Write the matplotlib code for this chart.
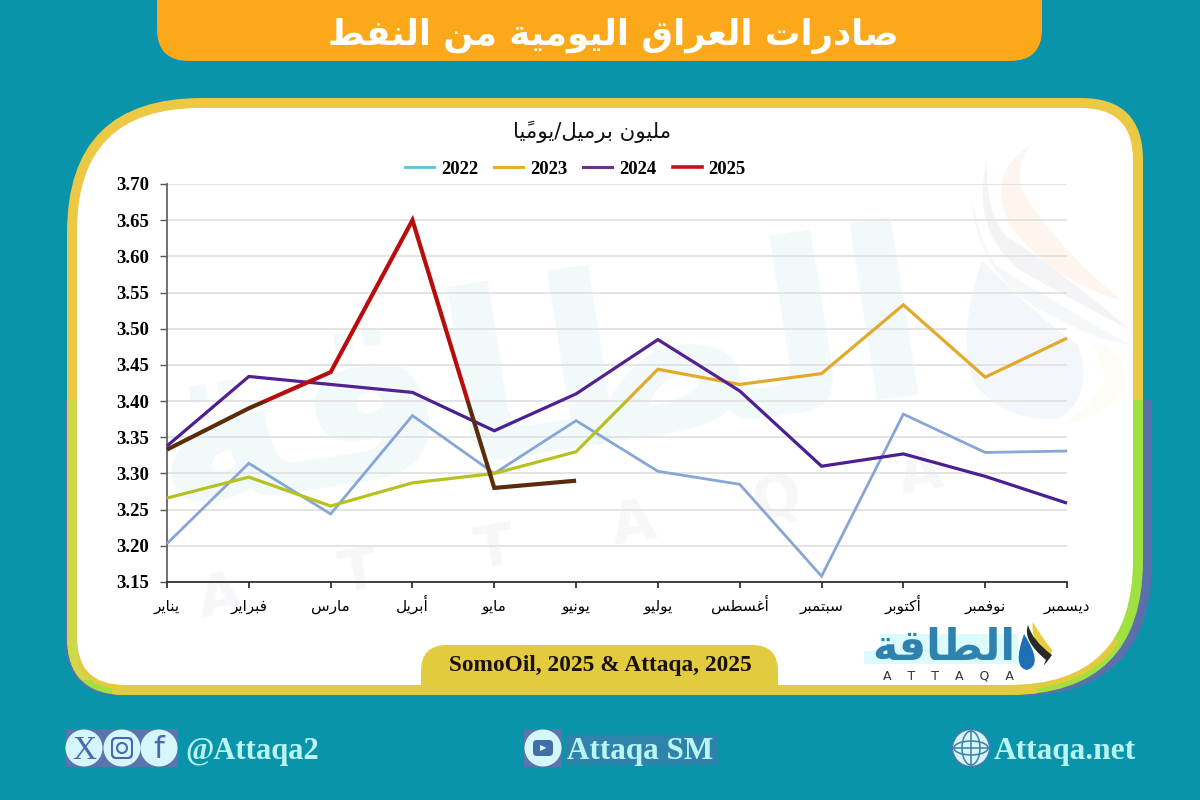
import matplotlib
matplotlib.use("Agg")
import matplotlib.pyplot as plt
from matplotlib.patches import Rectangle, Circle, Ellipse, PathPatch
from matplotlib.path import Path
from matplotlib.lines import Line2D
from matplotlib.ticker import FixedLocator

# ---------- data ----------
months = ["يناير", "فبراير", "مارس", "أبريل", "مايو", "يونيو",
          "يوليو", "أغسطس", "سبتمبر", "أكتوبر", "نوفمبر", "ديسمبر"]
y2022 = [3.203, 3.314, 3.244, 3.380, 3.300, 3.373, 3.303, 3.285, 3.158, 3.382, 3.329, 3.331]
y2023 = [3.266, 3.295, 3.255, 3.287, 3.300, 3.330, 3.444, 3.423, 3.438, 3.533, 3.433, 3.487]
y2024 = [3.338, 3.434, 3.423, 3.412, 3.359, 3.410, 3.485, 3.414, 3.310, 3.327, 3.296, 3.259]
y2025 = [3.333, 3.390, 3.440, 3.650, 3.280, 3.290]
yticks = [3.15, 3.20, 3.25, 3.30, 3.35, 3.40, 3.45, 3.50, 3.55, 3.60, 3.65, 3.70]
title = "صادرات العراق اليومية من النفط"
unit = "مليون برميل/يوميًا"
source = "SomoOil, 2025 & Attaqa, 2025"
logo = "الطاقة"

# ---------- Arabic shaping (matplotlib has no bidi / joining) ----------
DUAL = {"ب": 0xFE8F, "ت": 0xFE95, "س": 0xFEB1, "ص": 0xFEB9, "ط": 0xFEC1, "ع": 0xFEC9,
        "غ": 0xFECD, "ف": 0xFED1, "ق": 0xFED5, "ك": 0xFED9, "ل": 0xFEDD, "م": 0xFEE1,
        "ن": 0xFEE5, "ي": 0xFEF1}
RIGHT = {"ا": 0xFE8D, "أ": 0xFE83, "ة": 0xFE93, "د": 0xFEA9, "ر": 0xFEAD, "و": 0xFEED}
MARKS = "\u064B"


def shape(text):
    clusters = []
    for ch in text:
        if ch in MARKS and clusters:
            clusters[-1][1] += ch
        else:
            clusters.append([ch, ""])
    out = []
    for i, (ch, mark) in enumerate(clusters):
        prev = clusters[i - 1][0] if i else ""
        nxt = clusters[i + 1][0] if i + 1 < len(clusters) else ""
        joins_prev = prev in DUAL and prev != ""
        if ch in DUAL:
            joins_next = nxt in DUAL or nxt in RIGHT
            off = 3 if joins_prev and joins_next else 1 if joins_prev else 2 if joins_next else 0
            g = chr(DUAL[ch] + off)
        elif ch in RIGHT:
            g = chr(RIGHT[ch] + (1 if joins_prev else 0))
        else:
            g = ch
        out.append(g + mark)
    return "".join(reversed(out))


AR = "DejaVu Sans"
SERIF = "Liberation Serif"
TEAL = "#0a94ab"
GOLD = "#ebc945"
GOLD2 = "#e2cb3f"
YGREEN = "#cdd84a"
GREEN = "#a0e040"
BLUE = "#5a70ad"
W, H = 1200, 800

fig = plt.figure(figsize=(12, 8), dpi=100, facecolor=TEAL)
bg = fig.add_axes([0, 0, 1, 1], zorder=0)
bg.set_xlim(0, W)
bg.set_ylim(H, 0)
bg.axis("off")


def rr(x0, y0, x1, y1, tl, tr, br, bl, color, clip=None, z=1):
    """Rounded rectangle with its own radius per corner."""
    C3, L = Path.CURVE3, Path.LINETO
    verts = [(x0 + tl, y0), (x1 - tr, y0), (x1, y0), (x1, y0 + tr), (x1, y1 - br), (x1, y1),
             (x1 - br, y1), (x0 + bl, y1), (x0, y1), (x0, y1 - bl), (x0, y0 + tl), (x0, y0),
             (x0 + tl, y0), (x0 + tl, y0)]
    codes = [Path.MOVETO, L, C3, C3, L, C3, C3, L, C3, C3, L, C3, C3, Path.CLOSEPOLY]
    p = PathPatch(Path(verts, codes), fc=color, ec="none", zorder=z)
    bg.add_patch(p)
    if clip is not None:
        p.set_clip_path(Rectangle((clip[0], clip[1]), clip[2], clip[3], transform=bg.transData))
    return p


def blob(verts, color, z=1.58):
    bg.add_patch(PathPatch(Path(verts, [Path.MOVETO] + [Path.CURVE3] * (len(verts) - 1)),
                           fc=color, ec="none", zorder=z))


# ---------- frame ----------
rr(67, 98, 1143, 695, 135, 62, 135, 58, GOLD, z=1)
rr(65, 98, 1152, 696, 135, 62, 135, 58, BLUE, clip=(0, 400, W, 400), z=1.1)
rr(67, 98, 1143, 695, 135, 62, 135, 58, GREEN, clip=(0, 400, W, 400), z=1.2)
rr(67, 98, 1143, 695, 135, 62, 135, 58, YGREEN, clip=(0, 400, 110, 280), z=1.25)
rr(67, 98, 1143, 695, 135, 62, 135, 58, GOLD2, clip=(112, 640, 925, 60), z=1.3)
rr(72, 98, 1139, 690, 135, 62, 130, 55, GOLD2, clip=(78, 640, 1040, 60), z=1.32)
rr(77, 108, 1133, 685, 123, 52, 125, 48, "white", z=1.5)

# ---------- banner ----------
rr(157, -60, 1042, 61, 30, 30, 32, 32, "#fca81b", z=2)
bg.text(613, 36, shape(title), family=AR, weight="bold", fontsize=25.5, color="white",
        ha="center", va="center", zorder=3)

# ---------- watermark ----------
WM = "#f1f9fb"
bg.text(540, 385, shape(logo), family=AR, weight="bold", fontsize=170, color=WM,
        ha="center", va="center", rotation=9, zorder=1.6)
bg.text(571, 537, "A     T     T     A     Q     A", family="DejaVu Sans", weight="bold",
        fontsize=41, color="#f7f7f9", ha="center", va="center", rotation=10, zorder=1.6)
blob([(1030, 145), (985, 175), (1010, 225), (1050, 280), (1120, 300), (1050, 240),
      (1022, 190), (1015, 165), (1030, 145)], "#fdf5ee")
blob([(987, 160), (970, 230), (1020, 270), (1090, 310), (1130, 330), (1060, 270),
      (1005, 235), (985, 210), (987, 160)], "#f4f4f6")
blob([(972, 200), (975, 270), (1040, 310), (1095, 340), (1130, 345), (1050, 300),
      (995, 265), (980, 240), (972, 200)], "#f5f8fb")
blob([(982, 260), (955, 340), (975, 385), (1010, 425), (1060, 418), (1095, 395), (1078, 345),
      (1040, 320), (982, 260)], "#f3f7fb")
blob([(1090, 340), (1130, 350), (1125, 390), (1100, 420), (1060, 425), (1090, 410),
      (1105, 380), (1100, 350), (1090, 340)], "#fdfdf6")

# ---------- chart ----------
ax = fig.add_axes([167 / W, 1 - 582 / H, 900 / W, 398 / H], zorder=2)
ax.patch.set_visible(False)
xs = list(range(len(months)))
ax.set_xlim(0, 11)
ax.set_ylim(3.15, 3.70)

series = [
    (y2022, "#80abd9", "#86a6d6", 2.0, 3),
    (y2023, "#e3a92a", "#b5c21f", 2.3, 4),
    (y2024, "#55208f", "#4a1f94", 2.3, 5),
    (y2025, "#b90c0c", "#5a2c0a", 3.0, 6),
]
for vals, up, low, lw, z in series:
    x = xs[:len(vals)]
    l1, = ax.plot(x, vals, color=up, lw=lw, zorder=z, solid_joinstyle="miter", solid_capstyle="butt")
    l1.set_clip_path(Rectangle((-1, 3.40), 13, 0.5, transform=ax.transData))
    l2, = ax.plot(x, vals, color=low, lw=lw, zorder=z, solid_joinstyle="miter", solid_capstyle="butt")
    l2.set_clip_path(Rectangle((-1, 3.0), 13, 0.40, transform=ax.transData))

ax.yaxis.set_major_locator(FixedLocator(yticks))
ax.set_yticklabels([f"{v:.2f}" for v in yticks], family=SERIF, weight="bold", fontsize=13.5, color="black")
ax.set_xticks(xs)
ax.set_xticklabels([shape(m) for m in months], family=AR, fontsize=11, color="black", va="baseline")
ax.grid(axis="y", color="#e2e2e2", lw=1.3, zorder=1)
ax.set_axisbelow(True)
ax.tick_params(axis="x", length=4, width=1.2, color="#222222", pad=17)
ax.tick_params(axis="y", length=5, width=1.0, color="#555555", pad=8)
ax.spines["top"].set_visible(False)
ax.spines["right"].set_visible(False)
ax.spines["left"].set_color("#666666")
ax.spines["left"].set_linewidth(1.3)
ax.spines["bottom"].set_color("#222222")
ax.spines["bottom"].set_linewidth(1.2)

bg.text(592, 132, shape(unit), family=AR, fontsize=15.3, color="#111111", ha="center", va="center", zorder=3)

handles = [Line2D([], [], color=c, lw=lw) for c, lw in
           [("#56c5d8", 2.0), ("#e9ac2c", 2.2), ("#6b2f8e", 2.2), ("#c8101a", 2.6)]]
leg = fig.legend(handles, ["2022", "2023", "2024", "2025"], ncol=4, loc="center",
                 bbox_to_anchor=(575.5 / W, 1 - 169 / H), frameon=False,
                 prop={"family": SERIF, "weight": "bold", "size": 13.5},
                 handlelength=1.55, handletextpad=0.37, columnspacing=0.85)
leg.set_zorder(6)

# ---------- source pill ----------
rr(421, 645, 778, 720, 26, 26, 0, 0, GOLD2, clip=(0, 0, W, 686), z=2)
bg.text(600, 666, source, family=SERIF, weight="bold", fontsize=16.8, color="#1a1208",
        ha="center", va="center", zorder=3)

# ---------- logo ----------
bg.add_patch(Rectangle((864, 651), 156, 13, fc="#dcfbff", ec="none", zorder=2.5))
bg.add_patch(Rectangle((880, 634), 138, 17, fc="#dcfbff", ec="none", zorder=2.5))
bg.text(944, 648, shape(logo), family=AR, weight="bold", fontsize=31, color="#2f82ae",
        ha="center", va="center", zorder=3)
bg.text(948, 676, "A    T    T    A    Q    A", family="DejaVu Sans", fontsize=9, color="#333333",
        ha="center", va="center", zorder=3)
blob([(1033, 622), (1030, 640), (1046, 655), (1044, 672), (1052, 650), (1040, 635), (1033, 622)], "#e8cf3a", z=3)
blob([(1028, 625), (1022, 640), (1046, 660), (1040, 672), (1052, 655), (1032, 640), (1028, 625)], "#2a2a2a", z=3.05)
blob([(1024, 634), (1012, 668), (1027, 670), (1044, 665), (1024, 634)], "#1f6fb5", z=3.1)

# ---------- footer ----------
ICON = "#d5f6fb"
INK = "#4a69ac"
TXT = "#b9f5f3"
for cx in [84, 122, 159]:
    bg.add_patch(Rectangle((cx - 19, 729), 38, 38, fc="#5a74ae", ec="none", zorder=2))
    bg.add_patch(Circle((cx, 748), 18.5, fc=ICON, ec="none", zorder=2.1))
bg.text(84, 751, "X", family=SERIF, fontsize=24, color=INK, ha="center", va="center", zorder=3)
bg.text(159, 750, "f", family="DejaVu Sans", fontsize=22, color=INK, ha="center", va="center", zorder=3)
rr(111, 737, 133, 759, 5, 5, 5, 5, INK, z=2.5)
rr(113, 739, 131, 757, 4, 4, 4, 4, ICON, z=2.6)
bg.add_patch(Circle((122, 748), 5, fc=ICON, ec=INK, lw=1.5, zorder=2.7))
bg.text(252, 752, "@Attaqa2", family=SERIF, weight="bold", fontsize=22, color=TXT,
        ha="center", va="center", zorder=3)

bg.add_patch(Rectangle((524, 729), 38, 38, fc="#5a74ae", ec="none", zorder=2))
bg.add_patch(Circle((543, 748), 18.5, fc=ICON, ec="none", zorder=2.1))
rr(533, 740, 553, 756, 4, 4, 4, 4, "#3f6ea8", z=2.5)
bg.text(543, 748, "▶", family="DejaVu Sans", fontsize=6, color=ICON, ha="center", va="center", zorder=3)
bg.add_patch(Rectangle((565, 735), 152, 30, fc="#2f83aa", ec="none", zorder=1.9))
bg.text(640, 752, "Attaqa SM", family=SERIF, weight="bold", fontsize=22.4, color=TXT,
        ha="center", va="center", zorder=3)

bg.add_patch(Circle((971, 748), 18.5, fc=ICON, ec="#5a74ae", lw=1.0, zorder=2.1))
bg.add_patch(Ellipse((971, 748), 18, 34, fc="none", ec="#3f7fa8", lw=1.1, zorder=2.5))
bg.add_patch(Ellipse((971, 748), 34, 14, fc="none", ec="#3f7fa8", lw=1.1, zorder=2.5))
bg.plot([971, 971], [731, 765], color="#3f7fa8", lw=1.1, zorder=2.5)
bg.plot([954, 988], [748, 748], color="#3f7fa8", lw=1.1, zorder=2.5)
bg.text(1065, 752, "Attaqa.net", family=SERIF, weight="bold", fontsize=22.6, color=TXT,
        ha="center", va="center", zorder=3)

fig.savefig("out.png", dpi=100, facecolor=TEAL)
